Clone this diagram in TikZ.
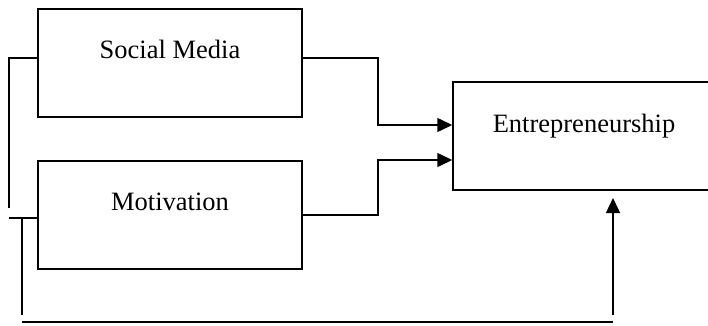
\documentclass[tikz,border=0pt]{standalone}
\usepackage{fontspec}
\setmainfont{Liberation Serif}
\usetikzlibrary{arrows.meta}

\begin{document}
\begin{tikzpicture}[x=1pt,y=-1pt,line width=1.5pt,
  box/.style={draw,minimum width=264pt,minimum height=108pt,inner sep=0pt},
  lbl/.style={anchor=base,inner sep=0pt,font=\fontsize{26.5}{30}\selectfont},
  >={Triangle[length=15pt,width=14pt]}]
\useasboundingbox (0,0) rectangle (708,325);
% boxes
\node[box] (sm) at (170,63) {};
\node[box] (mot) at (170,215) {};
\node[box,minimum width=262pt] (ent) at (584,136) {};
\node[lbl] (smt) at (170,58) {Social Media};
\node[lbl] (mott) at (170,210) {Motivation};
\node[lbl] (entt) at (584,132) {Entrepreneurship};
% bends
\coordinate (j1) at (378,90);
\coordinate (j2) at (378,190);
\coordinate (l1) at (9,208);
\coordinate (l2) at (9,218);
\coordinate (l3) at (22,218);
\coordinate (l4) at (22,315);
\coordinate (b1) at (22,322);
\coordinate (b2) at (613,322);
\coordinate (b3) at (613,315);
\coordinate (tip) at (613,198);
% connectors
\draw[->] ([yshift=5pt]sm.east) -| (j1) |- ([yshift=11pt]ent.west);
\draw[->] (mot.east) -| (j2) |- ([yshift=-24pt]ent.west);
\draw ([yshift=5pt]sm.west) -| (l1);
\draw (l2) -- ([yshift=-3pt]mot.west);
\draw (l3) -- (l4);
\draw (b1) -- (b2);
\draw[->] (b3) -- (tip);
\end{tikzpicture}
\end{document}
